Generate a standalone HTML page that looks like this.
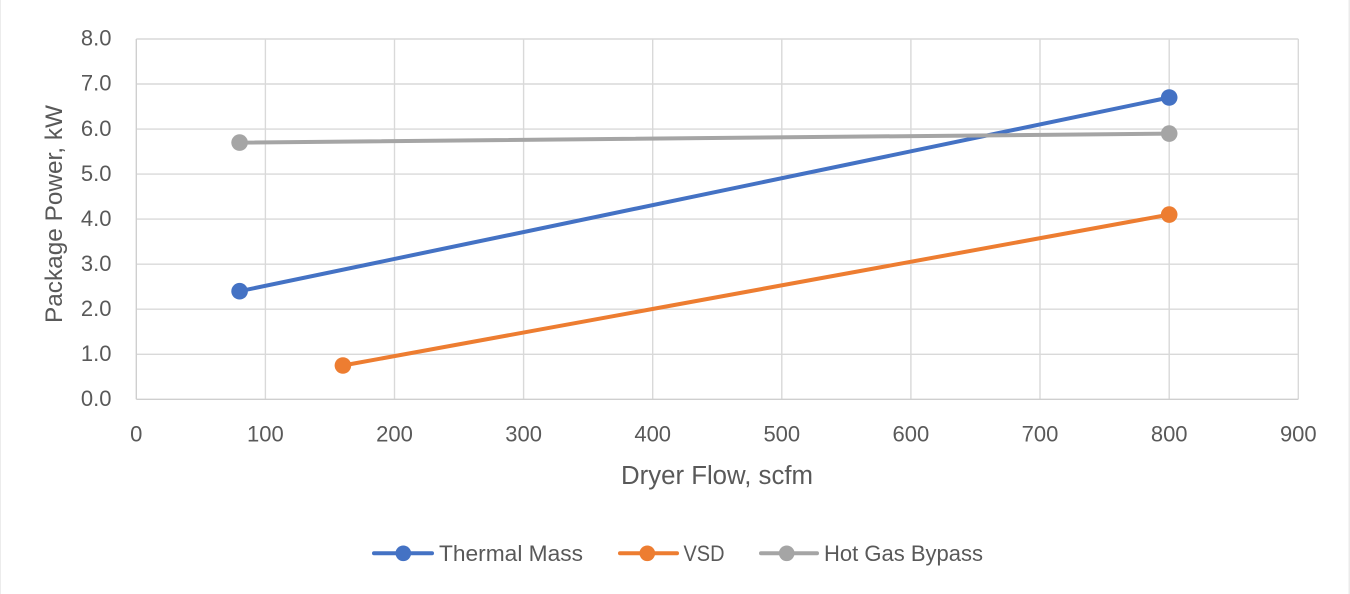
<!DOCTYPE html>
<html>
<head>
<meta charset="utf-8">
<style>
  html, body { margin: 0; padding: 0; background: #ffffff; }
  svg { display: block; }
  text { font-family: "Liberation Sans", "DejaVu Sans", sans-serif; fill: #595959; }
</style>
</head>
<body>
<svg width="1350" height="594" viewBox="0 0 1350 594" xmlns="http://www.w3.org/2000/svg">
  <rect x="0" y="0" width="1350" height="594" fill="#ffffff"/>
  <!-- chart border faint -->
  <line x1="0.5" y1="0" x2="0.5" y2="594" stroke="#ececec" stroke-width="1"/>
  <line x1="1349.2" y1="0" x2="1349.2" y2="594" stroke="#e6e6e6" stroke-width="1.2"/>

  <!-- horizontal gridlines -->
  <g stroke="#d9d9d9" stroke-width="1.4">
    <line x1="136.3" y1="39.0" x2="1298.3" y2="39.0"/>
    <line x1="136.3" y1="84.0" x2="1298.3" y2="84.0"/>
    <line x1="136.3" y1="129.1" x2="1298.3" y2="129.1"/>
    <line x1="136.3" y1="174.1" x2="1298.3" y2="174.1"/>
    <line x1="136.3" y1="219.1" x2="1298.3" y2="219.1"/>
    <line x1="136.3" y1="264.2" x2="1298.3" y2="264.2"/>
    <line x1="136.3" y1="309.2" x2="1298.3" y2="309.2"/>
    <line x1="136.3" y1="354.3" x2="1298.3" y2="354.3"/>
  </g>
  <!-- vertical gridlines -->
  <g stroke="#d9d9d9" stroke-width="1.4">
    <line x1="265.4" y1="39" x2="265.4" y2="399.3"/>
    <line x1="394.5" y1="39" x2="394.5" y2="399.3"/>
    <line x1="523.6" y1="39" x2="523.6" y2="399.3"/>
    <line x1="652.7" y1="39" x2="652.7" y2="399.3"/>
    <line x1="781.8" y1="39" x2="781.8" y2="399.3"/>
    <line x1="910.9" y1="39" x2="910.9" y2="399.3"/>
    <line x1="1040.0" y1="39" x2="1040.0" y2="399.3"/>
    <line x1="1169.2" y1="39" x2="1169.2" y2="399.3"/>
    <line x1="1298.3" y1="39" x2="1298.3" y2="399.3"/>
  </g>
  <!-- axes -->
  <line x1="136.3" y1="39" x2="136.3" y2="399.3" stroke="#cfcfcf" stroke-width="1.4"/>
  <line x1="136.3" y1="399.3" x2="1298.3" y2="399.3" stroke="#cfcfcf" stroke-width="1.4"/>

  <!-- Y tick labels -->
  <g font-size="22" text-anchor="end">
    <text x="111.5" y="45.7">8.0</text>
    <text x="111.5" y="90.7">7.0</text>
    <text x="111.5" y="135.8">6.0</text>
    <text x="111.5" y="180.8">5.0</text>
    <text x="111.5" y="225.8">4.0</text>
    <text x="111.5" y="270.9">3.0</text>
    <text x="111.5" y="315.9">2.0</text>
    <text x="111.5" y="361.0">1.0</text>
    <text x="111.5" y="406.0">0.0</text>
  </g>
  <!-- X tick labels -->
  <g font-size="22" text-anchor="middle">
    <text x="136.3" y="441.7">0</text>
    <text x="265.4" y="441.7">100</text>
    <text x="394.5" y="441.7">200</text>
    <text x="523.6" y="441.7">300</text>
    <text x="652.7" y="441.7">400</text>
    <text x="781.8" y="441.7">500</text>
    <text x="910.9" y="441.7">600</text>
    <text x="1040.0" y="441.7">700</text>
    <text x="1169.2" y="441.7">800</text>
    <text x="1298.3" y="441.7">900</text>
  </g>

  <!-- Axis titles -->
  <text x="717" y="484" font-size="25.5" text-anchor="middle" textLength="192" lengthAdjust="spacingAndGlyphs">Dryer Flow, scfm</text>
  <text transform="translate(62,214) rotate(-90)" x="0" y="0" font-size="24.5" text-anchor="middle" textLength="218" lengthAdjust="spacingAndGlyphs">Package Power, kW</text>

  <!-- Series -->
  <g stroke-width="4" stroke-linecap="round" fill="none">
    <line x1="239.6" y1="291.2" x2="1169.2" y2="97.5" stroke="#4472C4"/>
    <line x1="342.9" y1="365.5" x2="1169.2" y2="214.6" stroke="#ED7D31"/>
    <line x1="239.6" y1="142.6" x2="1169.2" y2="133.6" stroke="#A5A5A5"/>
  </g>
  <g>
    <circle cx="239.6" cy="291.2" r="8.3" fill="#4472C4"/>
    <circle cx="1169.2" cy="97.5" r="8.3" fill="#4472C4"/>
    <circle cx="342.9" cy="365.5" r="8.3" fill="#ED7D31"/>
    <circle cx="1169.2" cy="214.6" r="8.3" fill="#ED7D31"/>
    <circle cx="239.6" cy="142.6" r="8.3" fill="#A5A5A5"/>
    <circle cx="1169.2" cy="133.6" r="8.3" fill="#A5A5A5"/>
  </g>

  <!-- Legend -->
  <g stroke-width="4" stroke-linecap="round">
    <line x1="374" y1="553.3" x2="432" y2="553.3" stroke="#4472C4"/>
    <line x1="620" y1="553.3" x2="677" y2="553.3" stroke="#ED7D31"/>
    <line x1="761" y1="553.3" x2="817" y2="553.3" stroke="#A5A5A5"/>
  </g>
  <circle cx="403.3" cy="553.3" r="7.8" fill="#4472C4"/>
  <circle cx="647.3" cy="553.3" r="7.8" fill="#ED7D31"/>
  <circle cx="786.7" cy="553.3" r="7.8" fill="#A5A5A5"/>
  <g font-size="22">
    <text x="439" y="561" textLength="144" lengthAdjust="spacingAndGlyphs">Thermal Mass</text>
    <text x="683.5" y="561" textLength="41" lengthAdjust="spacingAndGlyphs">VSD</text>
    <text x="824" y="561" textLength="159" lengthAdjust="spacingAndGlyphs">Hot Gas Bypass</text>
  </g>
</svg>
</body>
</html>
